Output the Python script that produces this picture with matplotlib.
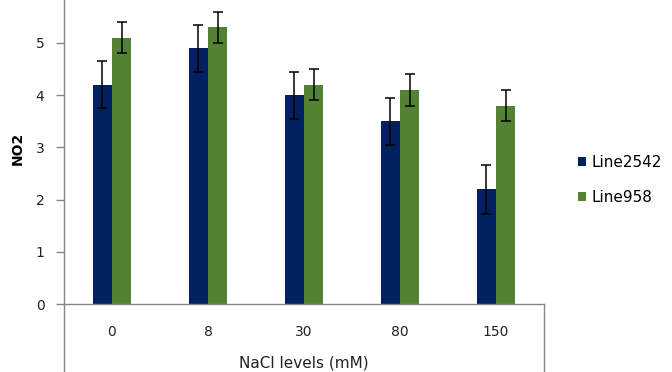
import matplotlib.pyplot as plt
from matplotlib.lines import Line2D
import numpy as np

# NO2 under salt stress, two lines
levels = ['0', '8', '30', '80', '150']
line2542 = [4.2, 4.9, 4.0, 3.5, 2.2]
line958 = [5.1, 5.3, 4.2, 4.1, 3.8]
err2542 = [0.45, 0.45, 0.45, 0.45, 0.47]
err958 = [0.3, 0.3, 0.3, 0.3, 0.3]

blue = '#002060'
green = '#538235'
grey = '#868686'

W, H = 672, 372
fig = plt.figure(figsize=(W / 100, H / 100), dpi=100)

# plot area: x 64..544 px, y=0 at 304 px, 52.2 px per unit
x0, x1, y0 = 64, 544, 304
ppu = 52.2
ax = fig.add_axes([x0 / W, (H - y0) / H, (x1 - x0) / W, 6 * ppu / H])

x = np.arange(len(levels)) + 0.5
w = 0.2
ekw = dict(ecolor='black', elinewidth=1.1, capsize=3.5, capthick=1.1)
ax.bar(x - w / 2, line2542, w, color=blue, yerr=err2542, label='Line2542',
       error_kw=ekw)
ax.bar(x + w / 2, line958, w, color=green, yerr=err958, label='Line958',
       error_kw=ekw)

ax.set_xlim(0, len(levels))
ax.set_ylim(0, 6)
ax.set_yticks(range(6))
ax.set_xticks(x)
ax.set_xticklabels(levels)

for s in ['top', 'right']:
    ax.spines[s].set_visible(False)
for s in ['left', 'bottom']:
    ax.spines[s].set_color(grey)
    ax.spines[s].set_linewidth(1)

ax.tick_params(axis='y', direction='out', length=6, width=1, color=grey,
               pad=8, labelsize=10, labelcolor='#222222')
ax.tick_params(axis='x', length=0, pad=15, labelsize=10, labelcolor='#222222')

ax.set_ylabel('NO2', fontsize=10, fontweight='bold')
ax.yaxis.set_label_coords((25 - x0) / (x1 - x0), 0.498)
ax.set_xlabel('NaCl levels (mM)', fontsize=11, color='#222222', va='center')
ax.xaxis.set_label_coords(0.5, (y0 - 363) / (6 * ppu))

# box below the plot area (left axis continues, right edge closes it)
fig.add_artist(Line2D([x0 / W, x0 / W], [0, (H - y0) / H], color=grey, lw=1))
fig.add_artist(Line2D([x1 / W, x1 / W], [0, (H - y0) / H], color=grey, lw=1))

fig.legend(loc='center left', bbox_to_anchor=(564 / W, 1 - 180 / H),
           frameon=False, fontsize=11, handlelength=0.55, handleheight=0.55,
           handletextpad=0.35, labelspacing=1.3)

fig.savefig('out.png', dpi=100)
